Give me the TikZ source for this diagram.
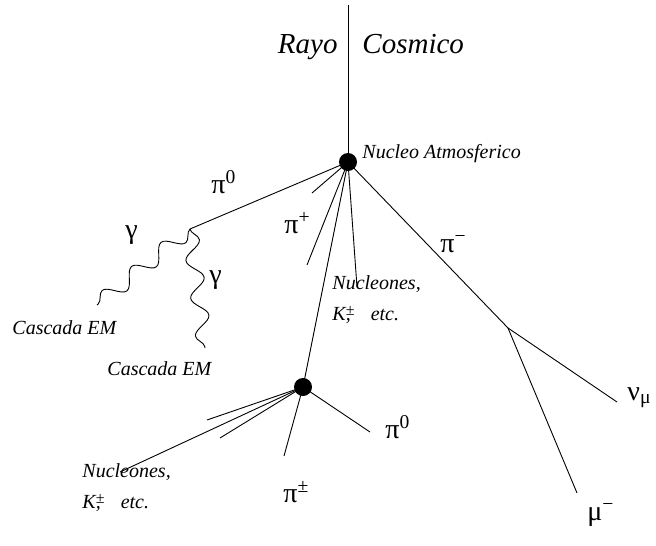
\documentclass[tikz,border=0pt]{standalone}
\usepackage{fontspec}
\setmainfont{Liberation Serif}
\usetikzlibrary{decorations.pathmorphing}
\newcommand{\kaon}{K\rlap{\raisebox{0.24em}{\fontsize{16}{16}\selectfont\upshape ±}},\hspace{1em}etc.}

\begin{document}
\begin{tikzpicture}[x=1pt,y=-1pt,line width=0.9pt,
  vertice/.style={circle,fill,inner sep=0pt,minimum size=18pt},
  lbl/.style={font=\fontsize{20}{31}\selectfont\itshape,align=left,inner sep=0pt,anchor=base west},
  part/.style={font=\fontsize{28}{30}\selectfont,inner sep=0pt,anchor=base west},
  foton/.style={decorate,decoration={snake,amplitude=8pt,segment length=38pt}}]
\useasboundingbox (0,0) rectangle (656,546);
% vertices
\coordinate (rayo) at (348,5);
\node[vertice] (nucleo) at (348,162) {};
\node[vertice] (nucleo2) at (303,387) {};
\coordinate (decae) at (508,328);
% extremos libres
\coordinate (pz) at (190,229);
\coordinate (corto) at (312,193);
\coordinate (pimas) at (307,265);
\coordinate (nucl1) at (357,287);
\coordinate (gam1) at (97,305);
\coordinate (gam2) at (205,348);
\coordinate (nu) at (617,402);
\coordinate (mu) at (577,493);
\coordinate (pz2) at (370,432);
\coordinate (pipm) at (284,456);
\coordinate (izq1) at (120,472);
\coordinate (izq2) at (207,420);
\coordinate (izq3) at (220,438);
% trazas
\draw (rayo)--(nucleo.center);
\draw (nucleo.center)--(pz); \draw (nucleo.center)--(corto); \draw (nucleo.center)--(pimas);
\draw (nucleo.center)--(nucleo2.center); \draw (nucleo.center)--(nucl1); \draw (nucleo.center)--(decae);
\draw (decae)--(nu); \draw (decae)--(mu);
\draw (nucleo2.center)--(pz2); \draw (nucleo2.center)--(pipm);
\draw (nucleo2.center)--(izq1); \draw (nucleo2.center)--(izq2); \draw (nucleo2.center)--(izq3);
\draw[foton] (pz)--(gam1);
\draw[foton] (pz)--(gam2);
% textos
\node[font=\fontsize{29}{30}\selectfont\itshape,inner sep=0pt,anchor=base east] (rayotxt) at (338,53) {Rayo};
\node[font=\fontsize{29}{30}\selectfont\itshape,inner sep=0pt,anchor=base west] (cosmtxt) at (362,53) {Cosmico};
\node[lbl] (atmtxt) at (362,158) {Nucleo Atmosferico};
\node[lbl] (em1) at (12,334) {Cascada EM};
\node[lbl] (em2) at (107,375) {Cascada EM};
\node[lbl] (nuclones1) at (332,320) {Nucleones,\\\kaon};
\node[lbl] (nuclones2) at (82,508) {Nucleones,\\\kaon};
\node[part] (pi0a) at (211,193) {π\textsuperscript{0}};
\node[part] (piplus) at (284,233) {π\textsuperscript{+}};
\node[part] (piminus) at (440,252) {π\textsuperscript{−}};
\node[part] (g1) at (125,238) {γ};
\node[part] (g2) at (209,283) {γ};
\node[part] (pi0b) at (385,438) {π\textsuperscript{0}};
\node[part] (pipmtxt) at (283,502) {π\textsuperscript{±}};
\node[part] (nutxt) at (627,400) {ν\textsubscript{μ}};
\node[part] (mutxt) at (587,520) {μ\textsuperscript{−}};
\end{tikzpicture}
\end{document}
